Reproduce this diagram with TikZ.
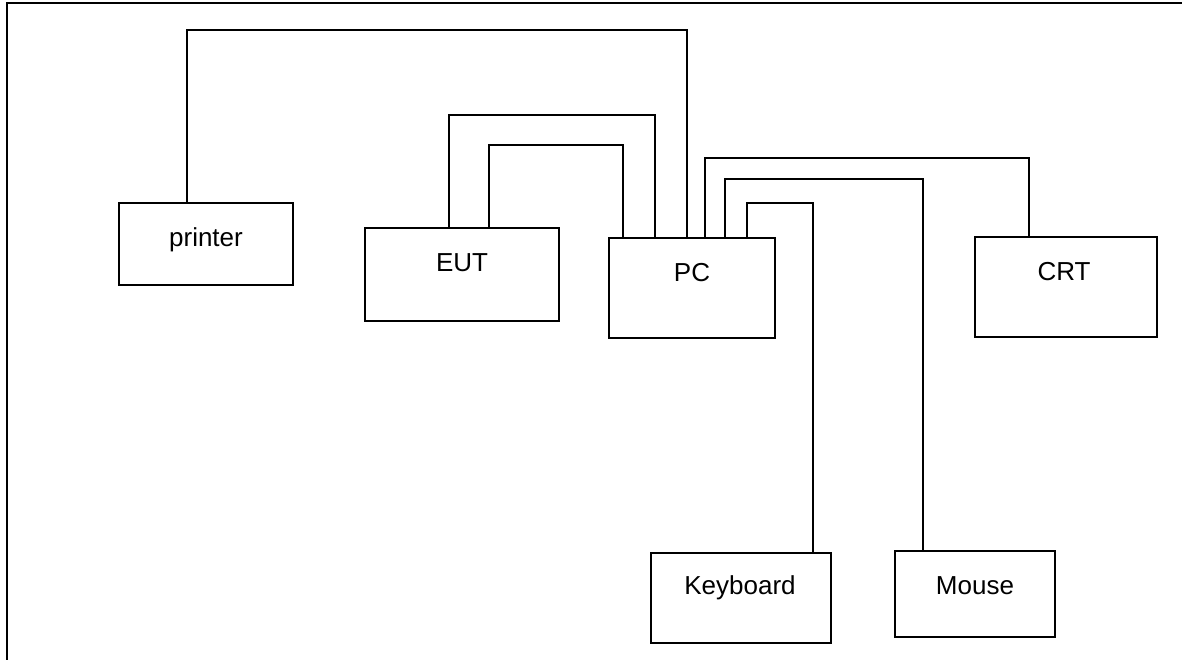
\documentclass[tikz,border=0pt]{standalone}
\usepackage{fontspec}
\setmainfont{Liberation Sans}
\begin{document}
\begin{tikzpicture}[x=1pt,y=-1pt,
  box/.style={draw,line width=1.4pt,minimum width=#1,inner sep=0pt,outer sep=0pt},
  wire/.style={line width=1.4pt},
  lbl/.style={font=\fontsize{26}{30}\selectfont,inner sep=0pt}]
\useasboundingbox (0,0) rectangle (1182,660);
% frame (only top and left edges visible)
\draw[line width=1.8pt] (7,660) -- (7,3) -- (1182,3);
% boxes
\node[box=174pt,minimum height=82pt] (printer) at (206,244) {};
\node[box=194pt,minimum height=93pt] (eut) at (462,274.5) {};
\node[box=166pt,minimum height=100pt] (pc) at (692,288) {};
\node[box=182pt,minimum height=100pt] (crt) at (1066,287) {};
\node[box=180pt,minimum height=90pt] (kb) at (741,598) {};
\node[box=160pt,minimum height=86pt] (mouse) at (975,594) {};
% labels
\node[lbl] (tprinter) at (206,240) {printer};
\node[lbl] (teut) at (462,263) {EUT};
\node[lbl] (tpc) at (692,273) {PC};
\node[lbl] (tcrt) at (1064,272) {CRT};
\node[lbl] (tkb) at (740,588) {Keyboard};
\node[lbl] (tmouse) at (975,586) {Mouse};
% connectors
\draw[wire] (printer.north -| 187,0) |- (687,30) -- (pc.north -| 687,0);
\draw[wire] (eut.north -| 449,0) |- (655,115) -- (pc.north -| 655,0);
\draw[wire] (eut.north -| 489,0) |- (623,145) -- (pc.north -| 623,0);
\draw[wire] (pc.north -| 705,0) |- (1029,158) -- (crt.north -| 1029,0);
\draw[wire] (pc.north -| 725,0) |- (923,179) -- (mouse.north -| 923,0);
\draw[wire] (pc.north -| 747,0) |- (813,203) -- (kb.north -| 813,0);
\end{tikzpicture}
\end{document}
